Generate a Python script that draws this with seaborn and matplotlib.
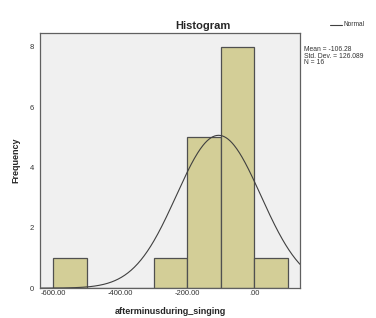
import numpy as np
import seaborn as sns
import matplotlib.pyplot as plt

# histogram bins
bin_edges = [-600, -500, -400, -300, -200, -100, 0, 100]
counts = [1, 0, 0, 1, 5, 8, 1]
x_ticks = [-600, -400, -200, 0]
x_tick_labels = ["-600.00", "-400.00", "-200.00", ".00"]
y_ticks = [0, 2, 4, 6, 8]
mean_val = -106.28
std_val = 126.089
n_val = 16

sns.set_style("white")
plt.rcParams['font.family'] = ['Liberation Sans', 'DejaVu Sans']

fig = plt.figure(figsize=(3.76, 3.18), dpi=100)
ax = fig.add_axes([0.106, 0.094, 0.692, 0.802])
ax.set_facecolor("#F0F0F0")

centers = [(a + b) / 2 for a, b in zip(bin_edges[:-1], bin_edges[1:])]
sns.histplot(x=centers, weights=counts, bins=bin_edges, ax=ax,
             color="#D3CE97", edgecolor="#505050", linewidth=0.9, alpha=1)

# fitted normal curve scaled to counts
xs = np.linspace(-640, 137, 400)
width = bin_edges[1] - bin_edges[0]
ys = n_val * width / (std_val * np.sqrt(2 * np.pi)) * np.exp(-0.5 * ((xs - mean_val) / std_val) ** 2)
sns.lineplot(x=xs, y=ys, ax=ax, color="#404040", linewidth=0.8)

ax.set_xlim(-640, 137)
ax.set_ylim(0, 8.45)
ax.set_xticks(x_ticks)
ax.set_xticklabels(x_tick_labels)
ax.set_yticks(y_ticks)
ax.tick_params(axis='both', labelsize=5.5, length=2.5, width=0.8, color="#505050",
               labelcolor="#333333", pad=1.5, direction='out')
ax.tick_params(axis='x', length=0)
for s in ax.spines.values():
    s.set_color("#606060")
    s.set_linewidth(0.9)

ax.set_title("Histogram", fontsize=8, fontweight='bold', x=0.627, pad=3)
ax.set_xlabel("afterminusduring_singing", fontsize=6.5, fontweight='bold', labelpad=7)
ax.set_ylabel("Frequency", fontsize=6.5, fontweight='bold')
ax.yaxis.set_label_coords(-0.073, 0.5)

# legend and stats on the right
fig.lines.append(plt.Line2D([330 / 376, 342 / 376], [1 - 24.5 / 318, 1 - 24.5 / 318],
                            transform=fig.transFigure, color="#404040", linewidth=0.8))
fig.text(343 / 376, 1 - 24.5 / 318, "Normal", fontsize=4.7, va='center', ha='left', color="#333333")
fig.text(304 / 376, 1 - 46 / 318,
         f"Mean = {mean_val}\nStd. Dev. = {std_val}\nN = {n_val}",
         fontsize=4.9, va='top', ha='left', color="#333333", linespacing=0.95)

fig.savefig("out.png", dpi=100)
